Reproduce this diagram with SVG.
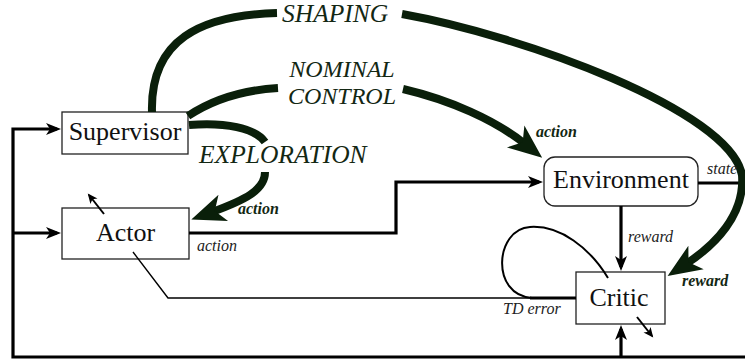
<svg xmlns="http://www.w3.org/2000/svg" width="745" height="360" viewBox="0 0 745 360">
<style>
.box{fill:#fff;stroke:#222;stroke-width:1.3}
.nt{font-family:'Liberation Serif','Times New Roman',serif;font-size:26px;fill:#111;text-anchor:middle}
.big{font-family:'Liberation Serif','Times New Roman',serif;font-style:italic;font-size:25.5px;fill:#132713}
.nom{font-size:24px}
.sm{font-family:'Liberation Serif','Times New Roman',serif;font-style:italic;font-size:16px;fill:#222}
.bsm{font-family:'Liberation Serif','Times New Roman',serif;font-style:italic;font-weight:bold;font-size:16px;fill:#132713}
.thick{fill:none;stroke:#0a1f0a;stroke-width:8}
.blk{fill:none;stroke:#000;stroke-width:3.2}
.thin{fill:none;stroke:#000;stroke-width:1.4}
.med{fill:none;stroke:#000;stroke-width:2}
</style>
<defs>
<marker id="big" viewBox="-36 -16 38 32" refX="-22" refY="0" markerWidth="38" markerHeight="32" markerUnits="userSpaceOnUse" orient="auto">
<path d="M0,0 L-34,-14 L-25,0 L-34,14 Z" fill="#0a1f0a"/>
</marker>
<marker id="ah" viewBox="-16 -8 18 16" refX="-4" refY="0" markerWidth="18" markerHeight="16" markerUnits="userSpaceOnUse" orient="auto">
<path d="M0,0 L-15,-6 L-11,0 L-15,6 Z" fill="#000"/>
</marker>
<marker id="sa" viewBox="-12 -6 14 12" refX="-2" refY="0" markerWidth="14" markerHeight="12" markerUnits="userSpaceOnUse" orient="auto">
<path d="M0,0 L-10,-4.5 L-7.5,0 L-10,4.5 Z" fill="#000"/>
</marker>
</defs>

<g id="supervisor">
<rect class="box" x="62" y="112" width="126" height="42"/>
<text class="nt" x="125" y="140">Supervisor</text>
</g>
<g id="actor">
<rect class="box" x="62" y="208" width="127" height="51"/>
<text class="nt" x="125.5" y="241">Actor</text>
</g>
<g id="environment">
<rect class="box" x="544" y="157" width="154" height="49" rx="11"/>
<text class="nt" x="621" y="188">Environment</text>
</g>
<g id="critic">
<rect class="box" x="576" y="272" width="89" height="52"/>
<text class="nt" x="619" y="306">Critic</text>
</g>

<g id="connectors">
<path class="blk" d="M745,357 L13,357 L13,129 L57,129" marker-end="url(#ah)"/>
<path class="blk" d="M13,233 L57,233" marker-end="url(#ah)"/>
<path class="blk" d="M621,357 L621,329" marker-end="url(#ah)"/>
<path class="blk" d="M698,183 L745,183"/>
<path class="blk" d="M189,233 L396,233 L396,182 L539,182" marker-end="url(#ah)"/>
<path class="blk" d="M621,206 L621,267" marker-end="url(#ah)"/>
<path class="thin" d="M133,252 L168,298 L532,298"/>
<path class="blk" d="M530,298 L576,298"/>
<path class="med" d="M608,278 C590,248 560,225 530,227 C495,229 490,295 532,298"/>
<path class="med" d="M104,214 L89,195" marker-end="url(#sa)"/>
<path class="med" d="M637,317 L652,336" marker-end="url(#sa)"/>
<path class="thick" d="M152,112 C150,40 200,15 277,13"/>
<path class="thick" d="M402,14 C520,35 730,110 742,175 C745,215 715,245 686,264" marker-end="url(#big)"/>
<path class="thick" d="M188,116 C215,98 245,90 278,88"/>
<path class="thick" d="M403,89 C450,100 495,120 525,144" marker-end="url(#big)"/>
<path class="thick" d="M189,125 C225,122 255,128 265,142"/>
<path class="thick" d="M265,172 C265,190 245,200 212,212" marker-end="url(#big)"/>
<text class="big" x="282" y="22">SHAPING</text>
<text class="big nom" text-anchor="middle"><tspan x="342" y="77">NOMINAL</tspan><tspan x="342" y="104">CONTROL</tspan></text>
<text class="big" x="199" y="163">EXPLORATION</text>
<text class="bsm" x="536" y="137">action</text>
<text class="bsm" x="238" y="214">action</text>
<text class="bsm" x="682" y="286">reward</text>
<text class="sm" x="197" y="251">action</text>
<text class="sm" x="628" y="242">reward</text>
<text class="sm" x="707" y="174">state</text>
<text class="sm" x="503" y="314">TD error</text>
</g>
</svg>
